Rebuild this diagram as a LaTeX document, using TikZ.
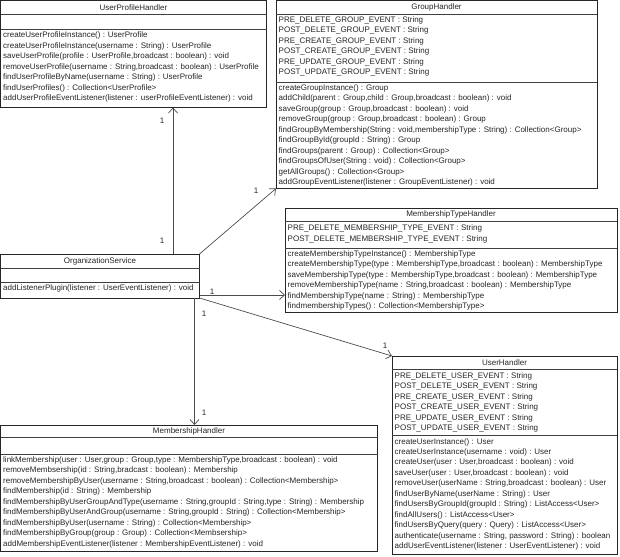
\documentclass[tikz,border=0pt]{standalone}
\usepackage{fontspec}
\setmainfont{Liberation Sans}
\usetikzlibrary{arrows.meta,calc}
\tikzset{
  classbox/.style={draw=black!85, line width=0.8pt, fill=white, inner sep=0pt, outer sep=0pt, anchor=north west},
  sepline/.style={draw=black!75, line width=0.7pt},
  umltitle/.style={font=\fontsize{8}{10}\selectfont, text=black!85, inner sep=0pt},
  members/.style={font=\fontsize{8}{10.45}\selectfont, text=black!85, align=left, inner sep=0pt, anchor=north west},
  assoc/.style={draw=black!70, line width=0.7pt, -{Straight Barb[length=5pt,width=9pt]}},
  mult/.style={font=\fontsize{8}{10}\selectfont, inner sep=0pt, text=black!85},
}
\newcommand\umlbox[6]{%
  \node[classbox, minimum width=#3pt, minimum height=#4pt] (#1) at #2 {};
  \draw[sepline] ([yshift=-#5pt]#1.north west) -- ([yshift=-#5pt]#1.north east);
  \draw[sepline] ([yshift=-#6pt]#1.north west) -- ([yshift=-#6pt]#1.north east);
}
\begin{document}
\begin{tikzpicture}[x=1pt,y=-1pt]
\useasboundingbox (0,0) rectangle (620,556);

% UserProfileHandler
\umlbox{uph}{(0.5,0.5)}{266}{107}{14}{29}
\node[umltitle] (uph-t) at ([yshift=-7pt]uph.north) {UserProfileHandler};
\node[members] (uph-m) at ([xshift=2.5pt,yshift=-31.5pt]uph.north west) {%
createUserProfileInstance() : UserProfile\\
createUserProfileInstance(username : String) : UserProfile\\
saveUserProfile(profile : UserProfile,broadcast : boolean) : void\\
removeUserProfile(username : String,broadcast : boolean) : UserProfile\\
findUserProfileByName(username : String) : UserProfile\\
findUserProfiles() : Collection<UserProfile>\\
addUserProfileEventListener(listener : userProfileEventListener) : void};

% GroupHandler
\umlbox{grp}{(276,0.5)}{321}{188}{13.5}{81.5}
\node[umltitle] (grp-t) at ([yshift=-7pt]grp.north) {GroupHandler};
\node[members] (grp-a) at ([xshift=2.5pt,yshift=-16pt]grp.north west) {%
PRE\_DELETE\_GROUP\_EVENT : String\\
POST\_DELETE\_GROUP\_EVENT : String\\
PRE\_CREATE\_GROUP\_EVENT : String\\
POST\_CREATE\_GROUP\_EVENT : String\\
PRE\_UPDATE\_GROUP\_EVENT : String\\
POST\_UPDATE\_GROUP\_EVENT : String};
\node[members] (grp-m) at ([xshift=2.5pt,yshift=-84pt]grp.north west) {%
createGroupInstance() : Group\\
addChild(parent : Group,child : Group,broadcast : boolean) : void\\
saveGroup(group : Group,broadcast : boolean) : void\\
removeGroup(group : Group,broadcast : boolean) : Group\\
findGroupByMembership(String : void,membershipType : String) : Collection<Group>\\
findGroupById(groupId : String) : Group\\
findGroups(parent : Group) : Collection<Group>\\
findGroupsOfUser(String : void) : Collection<Group>\\
getAllGroups() : Collection<Group>\\
addGroupEventListener(listener : GroupEventListener) : void};

% MembershipTypeHandler
\umlbox{mth}{(285,208)}{332}{104}{13}{40}
\node[umltitle] (mth-t) at ([yshift=-6.5pt]mth.north) {MembershipTypeHandler};
\node[members] (mth-a) at ([xshift=2.5pt,yshift=-17pt]mth.north west) {%
PRE\_DELETE\_MEMBERSHIP\_TYPE\_EVENT : String\\
POST\_DELETE\_MEMBERSHIP\_TYPE\_EVENT : String};
\node[members] (mth-m) at ([xshift=2.5pt,yshift=-42.5pt]mth.north west) {%
createMembershipTypeInstance() : MembershipType\\
createMembershipType(type : MembershipType,broadcast : boolean) : MembershipType\\
saveMembershipType(type : MembershipType,broadcast : boolean) : MembershipType\\
removeMembershipType(name : String,broadcast : boolean) : MembershipType\\
findMembershipType(name : String) : MembershipType\\
findmembershipTypes() : Collection<MembershipType>};

% OrganizationService
\umlbox{org}{(0.5,254)}{199}{44}{14}{28}
\node[umltitle] (org-t) at ([yshift=-7pt]org.north) {OrganizationService};
\node[members] (org-m) at ([xshift=2.5pt,yshift=-30.5pt]org.north west) {%
addListenerPlugin(listener : UserEventListener) : void};

% UserHandler
\umlbox{usr}{(392,356)}{225}{198}{13}{79}
\node[umltitle] (usr-t) at ([yshift=-6.5pt]usr.north) {UserHandler};
\node[members] (usr-a) at ([xshift=2.5pt,yshift=-16.5pt]usr.north west) {%
PRE\_DELETE\_USER\_EVENT : String\\
POST\_DELETE\_USER\_EVENT : String\\
PRE\_CREATE\_USER\_EVENT : String\\
POST\_CREATE\_USER\_EVENT : String\\
PRE\_UPDATE\_USER\_EVENT : String\\
POST\_UPDATE\_USER\_EVENT : String};
\node[members] (usr-m) at ([xshift=2.5pt,yshift=-82pt]usr.north west) {%
createUserInstance() : User\\
createUserInstance(username : void) : User\\
createUser(user : User,broadcast : boolean) : void\\
saveUser(user : User,broadcast : boolean) : void\\
removeUser(userName : String,broadcast : boolean) : User\\
findUserByName(userName : String) : User\\
findUsersByGroupId(groupId : String) : ListAccess<User>\\
findAllUsers() : ListAccess<User>\\
findUsersByQuery(query : Query) : ListAccess<User>\\
authenticate(username : String, password : String) : boolean\\
addUserEventListener(listener : UserEventListener) : void};

% MembershipHandler
\umlbox{mem}{(0.5,425)}{377}{126}{12}{29}
\node[umltitle] (mem-t) at ([yshift=-6pt]mem.north) {MembershipHandler};
\node[members] (mem-m) at ([xshift=2.5pt,yshift=-31.5pt]mem.north west) {%
linkMembership(user : User,group : Group,type : MembershipType,broadcast : boolean) : void\\
removeMembsership(id : String,bradcast : boolean) : Membership\\
removeMembershipByUser(username : String,broadcast : boolean) : Collection<Membership>\\
findMembership(id : String) : Membership\\
findMembershipByUserGroupAndType(username : String,groupId : String,type : String) : Membership\\
findMembershipByUserAndGroup(username : String,groupId : String) : Collection<Membership>\\
findMembershipByUser(username : String) : Collection<Membership>\\
findMembershipByGroup(group : Group) : Collection<Membsership>\\
addMembershipEventListener(listener : MembershipEventListener) : void};

% associations
\draw[assoc] ([xshift=172.5pt]org.north west) -- ([xshift=172.5pt]org.north west |- uph.south);
\draw[assoc] (org.north east) -- (grp.south west);
\draw[assoc] ([yshift=3pt]org.south east) -- ([yshift=3pt]org.south east -| mth.west);
\draw[assoc] ([xshift=-5pt]org.south east) -- ([xshift=-5pt]org.south east |- mem.north);
\draw[assoc] (org.south east) -- (usr.north west);

% multiplicities
\node[mult] (m1) at (162,121) {1};
\node[mult] (m2) at (162,241) {1};
\node[mult] (m3) at (256,191) {1};
\node[mult] (m4) at (212,292) {1};
\node[mult] (m5) at (204,314) {1};
\node[mult] (m6) at (385,346) {1};
\node[mult] (m7) at (204,413) {1};
\end{tikzpicture}
\end{document}
